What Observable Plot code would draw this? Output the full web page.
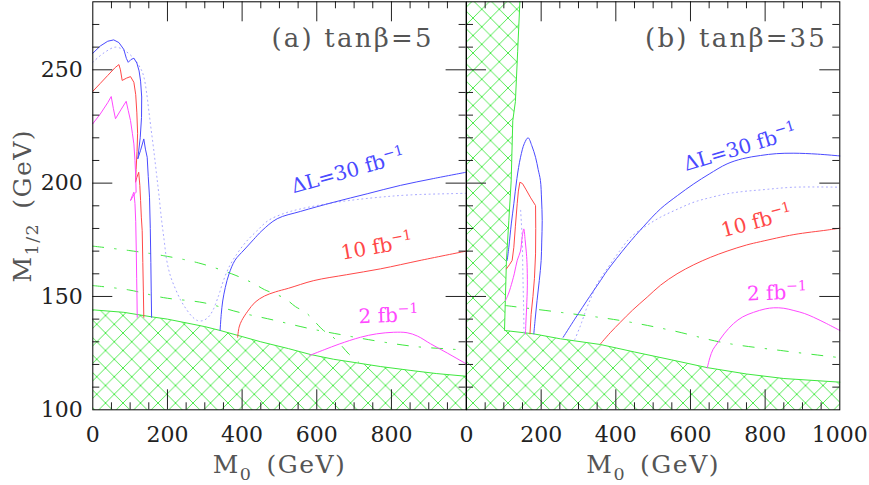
<!DOCTYPE html>
<html><head><meta charset="utf-8">
<script src="https://cdn.jsdelivr.net/npm/d3@7"></script>
<script src="https://cdn.jsdelivr.net/npm/@observablehq/plot@0.6"></script>
<style>
body{margin:0;background:#fff;}
#chart{position:relative;width:869px;height:485px;}
#chart svg{position:absolute;left:0;top:0;}
</style></head><body><div id="chart"></div>
<script>
// ---------- tick values ----------
const xMajorTicks = [200, 400, 600, 800];
const xMinorTicks = [50,100,150,250,300,350,450,500,550,650,700,750,850,900,950];
const yMajorTicks = [150, 200, 250];
const yMinorTicks = [110,120,130,140,160,170,180,190,210,220,230,240,260,270];
const xTickLabelsA = [0, 200, 400, 600, 800];
const xTickLabelsB = [0, 200, 400, 600, 800, 1000];
const yTickLabels = [100, 150, 200, 250];

// ---------- panel (a) tanβ=5 : [M0, M1/2] ----------
const excludedA = [[0,144.1],[83,143],[158,141],[200,140],[300,136.7],[341,135],[400,132.3],[450,130],[524,127],[583,124.4],[645,122.3],[700,120.9],[770,119.1],[850,117.4],[920,116],[1000,114.8]];
const dashDotA1 = [[0,172.2],[96,170.3],[189,168],[283,164.8],[372,160],[430,155.8],[460,153],[487,151.2],[516,149],[543,145.5],[570,143],[592,139.4],[618,135],[637,133],[665,128.5],[686,124.6],[712,121]];
const dashDotA2 = [[0,154.8],[96,152.9],[189,149.5],[298,147.2],[392,143],[484,139.6],[576,136],[670,133],[766,130.2],[864,127.9],[956,126.8],[1000,126.3]];
const blueA1 = [[0,257.3],[20,260.5],[40,262.6],[56,263.2],[70,262],[83,259],[90,255],[95,253.3],[102,254.5],[110,255.1],[118,253],[124,249.5],[128,245],[131,238],[130.5,229],[127,220],[120.5,210.7],[128,214.5],[136.6,219.5],[141,215],[145.7,211.4],[148.5,203],[151.9,193.8],[154,180],[155.5,165],[156.5,152],[157.5,140.8]];
const redA1 = [[0,240.5],[20,244],[40,247.5],[60,251],[70,252.3],[74,250],[78.7,245.3],[90,246.3],[101,247],[110,244.5],[115,239],[118,231],[120,222],[118.5,214],[116,206],[114.4,200.4],[118,202.5],[123,204.8],[126,199],[128,192.3],[130,185],[132.3,179],[134,165],[135.5,152],[136.6,140.8]];
const magentaA1 = [[0,226.2],[20,230.5],[40,235.5],[49.3,238.2],[55,233],[60.8,228.4],[75,232.3],[89.4,236.1],[95,232],[101,227.6],[106,222],[110,217.3],[113,210],[115,203],[116,196],[113,195.5],[107,194],[101,192.3],[106,194.5],[110,196],[113,191],[115,183],[116.5,170],[117.5,158],[118.5,148],[119,140.8]];
const dottedA = [[0,253.3],[30,257.5],[61,260],[85,258.5],[110,255],[130,250],[137,246.7],[144,240],[150,232],[156,224],[163,215],[170,205],[177,195],[184,184],[191,175],[198,166],[208,159],[221,153.5],[235,148.5],[250,144.5],[265,141.3],[280,139.4],[296,139.4],[310,141],[322,144],[337,150.4],[350,157],[365,163],[385,168.5],[410,174],[440,179],[470,183.5],[510,186.5],[556,188.6],[650,191.5],[750,193.5],[850,194.8],[1000,195.5]];
const blueA2 = [[341,135],[344,142],[348,148],[355,154],[365,160],[381,166],[405,170.5],[430,175],[453,179],[494,184.3],[556,187.5],[646,191.6],[735,195.3],[824,199],[912,202],[1000,204.8]];
const redA2 = [[388,132],[392,136.5],[399,139.4],[415,143.5],[435,147.5],[460,150.2],[489,152],[524,153.6],[592,157],[680,159.6],[771,162.2],[880,166],[1000,170]];
const magentaA2 = [[581,124],[620,126.5],[660,129],[717,132],[760,133.5],[806,134.2],[842,134],[870,132.5],[905,129.1],[950,125],[1000,120.3]];

// ---------- panel (b) tanβ=35 ----------
const excludedB = [[143,280],[137,258],[131,236],[124,227.6],[119.7,201],[113.4,183.5],[107,166],[101.8,135],[180,133.5],[252,131.3],[359,128.8],[450,125.5],[550,122],[645,118.6],[750,115.8],[850,113.8],[1000,112.2]];
const dashDotB = [[104,146],[261,142.8],[412,139.4],[550,135],[689,129.6],[850,126],[1000,123]];
const blueB1 = [[109,165.9],[113.4,171.7],[120,182],[126.8,190.9],[135,202],[144.7,211.4],[155,217.5],[165,220],[175,216.5],[185,211.4],[192,206],[198,201.2],[201,193],[202.8,183.5],[201.5,174],[200,165.9],[195,157],[189,148.2],[184,140],[180.3,133.5]];
const redB1 = [[107,162.2],[115,164],[122.3,165.9],[126.8,171.7],[131,181],[135.8,190.9],[139,196.5],[143,200.4],[150,199.8],[160,197],[172,193.5],[185,190.1],[185.5,180],[185,168.8],[182,158],[178,150],[173,142],[170,133.5]];
const magentaB1 = [[104.5,148.2],[112,151],[118,154],[128,160],[136,166],[144.6,170],[149,176],[153.5,179.8],[157,175],[160,170],[162,165],[163,155],[161,145],[159,138],[158,133.5]];
const dottedB1 = [[145,188],[149,176],[151,160],[153,145],[154,133.5]];
const blueB2 = [[259,132],[290,140],[330,150],[359,157],[377,161.4],[430,172.5],[475,181],[520,188.7],[565,194.5],[609,199.7],[650,204],[698,208.5],[740,210.8],[788,212.2],[830,213],[877,213.2],[940,212.8],[1000,212]];
const dottedB2 = [[290,131],[305,137],[320,144],[335,150],[350,155.6],[380,163],[410,170],[439,176],[480,181],[520,185],[565,188.5],[609,191.6],[650,193.5],[698,195.3],[740,196.3],[788,197],[877,198.2],[1000,198.2]];
const redB2 = [[359,129.1],[385,134],[412,138.6],[445,144],[484,149.7],[520,155],[564,160],[609,164],[654,167.3],[698,170],[750,172.7],[788,174.2],[877,177.3],[966,179.3],[1000,180.1]];
const magentaB2 = [[645,118.5],[652,123],[660,126.5],[671,129.1],[690,133.5],[715,138],[740,141],[769,143],[800,144.5],[823,145],[850,144.8],[877,143.8],[905,142.5],[930,140.8],[965,138],[1000,135]];

// ---------- text ----------
const titleA = {text: "(a) tanβ=5", m0: 913, m12: 260};
const titleB = {text: "(b) tanβ=35", m0: 966, m12: 260};
const labels30 = ["ΔL=30 fb^{−1}"], labels10 = ["10 fb^{−1}"], labels2 = ["2 fb^{−1}"];
const labelPosA = {l30: [537.6, 195.5], l10: [668, 166.2], l2: [712.6, 138.2]};
const labelPosB = {l30: [588, 205.3], l10: [688, 176.1], l2: [752, 148.2]};
const xAxisLabel = "M_{0}\u2002(GeV)";
const yAxisLabel = "M_{1/2}\u2002(GeV)";

// ---------- drawing ----------
const W = 869, H = 485, MT = 1.3, MB = 75.7;
const GREEN = "#3ee83e", BLUE = "#4a4aff", RED = "#ff4848", MAG = "#ff48ff", DOT = "#a0a0ff";
const TICK = "#222";
const X0 = 0, X1 = 1000, Y0 = 100, Y1 = 280;

const ln = (data, o) => Plot.line(data, {x: d => d[0], y: d => d[1], ...o});

function makePanel(cfg) {
  const fw = W - cfg.ml - cfg.mr, fh = H - MT - MB;
  const m = [];
  m.push(ln(cfg.hatch, {fill: `url(#${cfg.id})`, stroke: "none"}));
  m.push(ln(cfg.boundary, {stroke: GREEN, strokeWidth: 1}));
  cfg.dashdot.forEach(d => m.push(ln(d, {stroke: GREEN, strokeWidth: 1, strokeDasharray: "11,11,1.5,11", curve: "catmull-rom"})));
  cfg.dotted.forEach(d => m.push(ln(d, {stroke: DOT, strokeWidth: 1, strokeDasharray: "1,3.5", curve: "catmull-rom"})));
  cfg.curves.forEach(([d, c, cv]) => m.push(ln(d, {stroke: c, strokeWidth: 1, curve: cv || "linear"})));
  // ticks on four sides, pointing inward
  m.push(Plot.tickX(xMinorTicks, {x: d => d, insetTop: fh - 7, stroke: TICK}));
  m.push(Plot.tickX(xMajorTicks, {x: d => d, insetTop: fh - 20, stroke: TICK}));
  m.push(Plot.tickX(xMinorTicks, {x: d => d, insetBottom: fh - 7, stroke: TICK}));
  m.push(Plot.tickX(xMajorTicks, {x: d => d, insetBottom: fh - 20, stroke: TICK}));
  m.push(Plot.tickY(yMinorTicks, {y: d => d, insetRight: fw - 7, stroke: TICK}));
  m.push(Plot.tickY(yMajorTicks, {y: d => d, insetRight: fw - 20, stroke: TICK}));
  m.push(Plot.tickY(yMinorTicks, {y: d => d, insetLeft: fw - 7, stroke: TICK}));
  m.push(Plot.tickY(yMajorTicks, {y: d => d, insetLeft: fw - 20, stroke: TICK}));
  m.push(Plot.frame({stroke: "#000", strokeWidth: 1}));
  // tick labels
  m.push(Plot.text(cfg.xLabels, {x: d => d, frameAnchor: "bottom", dy: 17, lineAnchor: "top", textAnchor: "middle", text: d => String(d), fontSize: 22, fill: "#222"}));
  if (cfg.yLabels) m.push(Plot.text(cfg.yLabels, {y: d => d, frameAnchor: "left", dx: -10, textAnchor: "end", lineAnchor: "middle", text: d => String(d), fontSize: 22, fill: "#222"}));
  // axis titles
  m.push(Plot.text([xAxisLabel], {frameAnchor: "bottom", dy: 63, lineAnchor: "bottom", textAnchor: "middle", text: d => d, fontSize: 25, fill: "#555"}));
  if (cfg.yLabels) m.push(Plot.text([yAxisLabel], {frameAnchor: "left", dx: -62, rotate: -90, lineAnchor: "bottom", textAnchor: "middle", text: d => d, fontSize: 25, fill: "#555"}));
  // panel title
  m.push(Plot.text([cfg.title], {x: d => d.m0, y: d => d.m12, text: d => d.text, textAnchor: "end", lineAnchor: "bottom", fontSize: 26, fill: "#555"}));
  // curve labels
  const lp = cfg.labelPos;
  m.push(Plot.text(labels30, {x: () => lp.l30[0], y: () => lp.l30[1], text: d => d, textAnchor: "start", lineAnchor: "bottom", rotate: cfg.rot[0], fontSize: 20, fill: BLUE}));
  m.push(Plot.text(labels10, {x: () => lp.l10[0], y: () => lp.l10[1], text: d => d, textAnchor: "start", lineAnchor: "bottom", rotate: cfg.rot[1], fontSize: 20, fill: RED}));
  m.push(Plot.text(labels2, {x: () => lp.l2[0], y: () => lp.l2[1], text: d => d, textAnchor: "start", lineAnchor: "bottom", rotate: cfg.rot[2], fontSize: 20, fill: MAG}));

  const svg = Plot.plot({
    width: W, height: H, marginTop: MT, marginBottom: MB, marginLeft: cfg.ml, marginRight: cfg.mr,
    x: {domain: [X0, X1], axis: null}, y: {domain: [Y0, Y1], axis: null},
    style: {fontFamily: "DejaVu Serif", background: "transparent", overflow: "visible"},
    marks: m
  });
  const defs = d3.select(svg).insert("defs", ":first-child");
  const P = 17.5;
  const pat = defs.append("pattern").attr("id", cfg.id).attr("patternUnits", "userSpaceOnUse")
    .attr("width", P).attr("height", P);
  pat.append("path").attr("d", `M0,0L${P},${P}M${P},0L0,${P}M-2,${P-2}L2,${P+2}M${P-2},-2L${P+2},2M-2,2L2,-2M${P-2},${P+2}L${P+2},${P-2}`)
    .attr("stroke", GREEN).attr("stroke-width", 0.9).attr("fill", "none");
  return svg;
}

function richify(svg) {
  svg.querySelectorAll("text").forEach(t => {
    const s = t.textContent;
    if (s.includes("tanβ")) t.style.letterSpacing = "2.2px";
    if (s.includes("GeV")) t.style.letterSpacing = "1.5px";
    if (!/[_^]\{/.test(s)) return;
    const fs = parseFloat(getComputedStyle(t).fontSize) || 20;
    t.textContent = "";
    let cur = 0;
    s.split(/([_^]\{[^}]*\})/).forEach(p => {
      if (!p) return;
      const mm = p.match(/^([_^])\{([^}]*)\}$/);
      const ts = document.createElementNS("http://www.w3.org/2000/svg", "tspan");
      let target = 0, txt = p;
      if (mm) { target = mm[1] === "_" ? 0.3 * fs : -0.42 * fs; txt = mm[2]; ts.setAttribute("font-size", 0.7 * fs); }
      if (target !== cur) ts.setAttribute("dy", target - cur);
      cur = target;
      ts.textContent = txt;
      t.appendChild(ts);
    });
  });
}

const polyA = [[X0, Y0], ...excludedA, [X1, Y0]];
const polyB = [[X0, Y0], [X0, Y1], ...excludedB, [X1, Y0]];

const svgA = makePanel({
  id: "hatchA", ml: 92.3, mr: W - 465.6, hatch: polyA, boundary: excludedA,
  dashdot: [dashDotA1, dashDotA2], dotted: [dottedA],
  curves: [[blueA1, BLUE], [redA1, RED], [magentaA1, MAG], [blueA2, BLUE, "catmull-rom"], [redA2, RED, "catmull-rom"], [magentaA2, MAG, "catmull-rom"]],
  xLabels: xTickLabelsA, yLabels: yTickLabels, title: titleA, labelPos: labelPosA, rot: [-15.6, -10, -2]
});
const svgB = makePanel({
  id: "hatchB", ml: 466, mr: W - 839.3, hatch: polyB, boundary: excludedB,
  dashdot: [dashDotB], dotted: [dottedB1, dottedB2],
  curves: [[blueB1, BLUE, "catmull-rom"], [redB1, RED], [magentaB1, MAG, "catmull-rom"], [blueB2, BLUE, "catmull-rom"], [redB2, RED, "catmull-rom"], [magentaB2, MAG, "catmull-rom"]],
  xLabels: xTickLabelsB, yLabels: null, title: titleB, labelPos: labelPosB, rot: [-16.7, -14.8, -2]
});
const chart = document.getElementById("chart");
chart.appendChild(svgA);
chart.appendChild(svgB);
richify(svgA);
richify(svgB);
</script>
</body></html>
